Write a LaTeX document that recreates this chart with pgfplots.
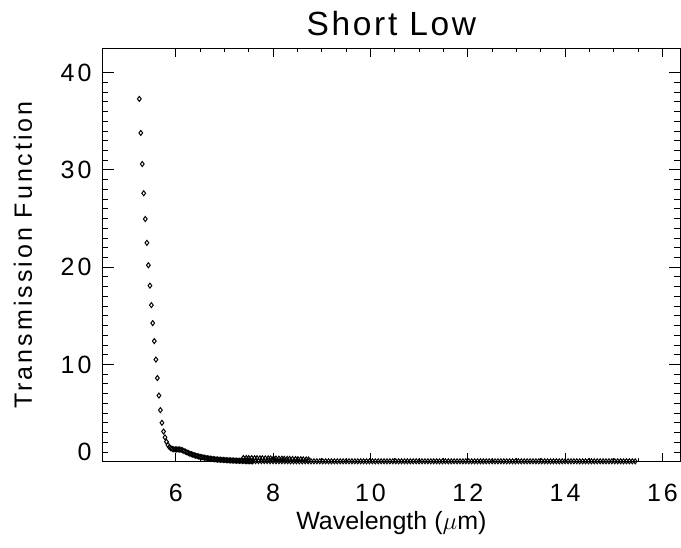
\documentclass[border=0pt]{standalone}
\usepackage{fontspec}
\setmainfont{Liberation Sans}
\usepackage{pgfplots}
\pgfplotsset{compat=1.18}
\begin{document}
\begin{tikzpicture}
\begin{axis}[
  scale only axis, width=577.3pt, height=413.4pt,
  xmin=4.5, xmax=16.36, ymin=0, ymax=42.5,
  axis line style={line width=0.9pt, black},
  xtick={6,8,10,12,14,16}, xticklabels={6,8,10,12,14,16},
  ytick={0,10,20,30,40},
  yticklabels={\raisebox{9.5pt}[\height][\depth]{0},10,20,30,40},
  minor x tick num=3, minor y tick num=9,
  tick style={black, line width=0.8pt},
  xtick style={/pgfplots/major tick length=8.3pt,/pgfplots/minor tick length=4.1pt},
  ytick style={/pgfplots/major tick length=11.5pt,/pgfplots/minor tick length=5.8pt},
  tick label style={font=\fontsize{25}{25}\selectfont\addfontfeatures{LetterSpace=12}},
  xticklabel style={anchor=base, yshift=-39.8pt, inner sep=0pt},
  yticklabel style={anchor=east, xshift=-11pt, inner sep=0pt},
  title={Short Low},
  title style={at={(axis description cs:0.5,1)}, anchor=base, yshift=7pt, inner sep=0pt, font=\fontsize{33.5}{33.5}\selectfont\addfontfeatures{LetterSpace=8}},
  xlabel={Wavelength ($\mu$m)},
  xlabel style={at={(axis description cs:0.5,0)}, anchor=base, yshift=-68.3pt, inner sep=0pt, font=\fontsize{25}{25}\selectfont},
  ylabel={Transmission Function},
  ylabel style={at={(axis description cs:-0.1225,0.5)}, anchor=base, inner sep=0pt, font=\fontsize{25}{25}\selectfont\addfontfeatures{LetterSpace=12}},
]
% SL2 segment
\addplot[only marks, mark=diamond, mark size=2.5pt, black, mark options={line width=1pt}] coordinates {
(5.252,37.3) (5.282,33.8) (5.313,30.6) (5.343,27.6) (5.375,24.95) (5.408,22.5) (5.438,20.2) (5.470,18.1)
(5.500,16.1) (5.528,14.25) (5.560,12.4) (5.593,10.5) (5.623,8.6) (5.655,6.8) (5.685,5.3) (5.717,4.0)
(5.750,3.1) (5.780,2.5) (5.810,2.05) (5.840,1.72) (5.870,1.50) (5.900,1.38) (5.930,1.31) (5.960,1.28)
(5.990,1.27) (6.020,1.26) (6.050,1.26) (6.080,1.25) (6.110,1.22) (6.140,1.17) (6.170,1.10) (6.200,1.03)
(6.230,0.96) (6.260,0.89) (6.290,0.83) (6.320,0.77) (6.350,0.72) (6.380,0.67) (6.410,0.62) (6.440,0.58)
(6.470,0.54) (6.500,0.50) (6.530,0.47) (6.560,0.44) (6.590,0.41) (6.620,0.38) (6.650,0.35) (6.680,0.33)
(6.710,0.31) (6.740,0.29) (6.770,0.27) (6.800,0.25) (6.830,0.23) (6.860,0.22) (6.890,0.21) (6.920,0.20)
(6.950,0.19) (6.980,0.18) (7.010,0.17) (7.040,0.16) (7.070,0.15) (7.100,0.14) (7.130,0.13) (7.160,0.12)
(7.190,0.12) (7.220,0.11) (7.250,0.10) (7.280,0.10) (7.310,0.09) (7.340,0.09) (7.370,0.08) (7.400,0.08)
(7.430,0.07) (7.460,0.07) (7.490,0.06) (7.520,0.06) (7.550,0.05) (7.580,0.05)
};
% bonus segment
\addplot[only marks, mark=diamond, mark size=2.5pt, black, mark options={line width=1pt}] coordinates {
(7.39,0.38) (7.45,0.38) (7.50,0.37) (7.56,0.37) (7.62,0.36) (7.67,0.36) (7.73,0.35) (7.78,0.35)
(7.84,0.34) (7.90,0.34) (7.95,0.33) (8.01,0.33) (8.06,0.32) (8.12,0.31) (8.18,0.31) (8.23,0.30)
(8.29,0.29) (8.34,0.29) (8.40,0.28) (8.46,0.27) (8.51,0.26) (8.57,0.25) (8.62,0.24) (8.68,0.23) (8.73,0.22)
};
% SL1 segment
\addplot[only marks, mark=diamond, mark size=2.5pt, black, mark options={line width=1pt}] coordinates {
(7.46,0.07) (7.52,0.07) (7.58,0.07) (7.64,0.06) (7.70,0.06) (7.76,0.06) (7.82,0.06) (7.88,0.06) (7.94,0.05) (8.00,0.05)
(8.06,0.05) (8.12,0.05) (8.18,0.05) (8.24,0.05) (8.30,0.05) (8.36,0.04) (8.42,0.04) (8.48,0.04) (8.54,0.04) (8.60,0.04)
(8.66,0.04) (8.72,0.04) (8.78,0.04) (8.84,0.04) (8.90,0.04) (8.96,0.04) (9.02,0.04) (9.08,0.04) (9.14,0.04) (9.20,0.04)
(9.26,0.04) (9.32,0.04) (9.38,0.04) (9.44,0.04) (9.50,0.04) (9.56,0.04) (9.62,0.04) (9.68,0.04) (9.74,0.04) (9.80,0.04)
(9.86,0.04) (9.92,0.04) (9.98,0.04) (10.04,0.04) (10.10,0.04) (10.16,0.04) (10.22,0.04) (10.28,0.04) (10.34,0.04) (10.40,0.04)
(10.46,0.04) (10.52,0.04) (10.58,0.04) (10.64,0.04) (10.70,0.04) (10.76,0.04) (10.82,0.04) (10.88,0.04) (10.94,0.04) (11.00,0.04)
(11.06,0.04) (11.12,0.04) (11.18,0.04) (11.24,0.04) (11.30,0.04) (11.36,0.04) (11.42,0.04) (11.48,0.04) (11.54,0.04) (11.60,0.04)
(11.66,0.04) (11.72,0.04) (11.78,0.04) (11.84,0.04) (11.90,0.04) (11.96,0.04) (12.02,0.04) (12.08,0.04) (12.14,0.04) (12.20,0.04)
(12.26,0.04) (12.32,0.04) (12.38,0.04) (12.44,0.04) (12.50,0.04) (12.56,0.04) (12.62,0.04) (12.68,0.04) (12.74,0.04) (12.80,0.04)
(12.86,0.04) (12.92,0.04) (12.98,0.04) (13.04,0.04) (13.10,0.04) (13.16,0.04) (13.22,0.04) (13.28,0.04) (13.34,0.04) (13.40,0.04)
(13.46,0.04) (13.52,0.04) (13.58,0.04) (13.64,0.04) (13.70,0.04) (13.76,0.04) (13.82,0.04) (13.88,0.04) (13.94,0.04) (14.00,0.04)
(14.06,0.04) (14.12,0.04) (14.18,0.04) (14.24,0.04) (14.30,0.04) (14.36,0.04) (14.42,0.04) (14.48,0.04) (14.54,0.04) (14.60,0.04)
(14.66,0.04) (14.72,0.04) (14.78,0.04) (14.84,0.04) (14.90,0.04) (14.96,0.04) (15.02,0.04) (15.08,0.04) (15.14,0.04) (15.20,0.04)
(15.26,0.04) (15.32,0.04) (15.38,0.04) (15.44,0.04)
};
\end{axis}
\pgfresetboundingbox
\useasboundingbox (current axis.south west) ++(-102.7pt,-86.3pt) rectangle ++(681pt,548pt);
\end{tikzpicture}
\end{document}
